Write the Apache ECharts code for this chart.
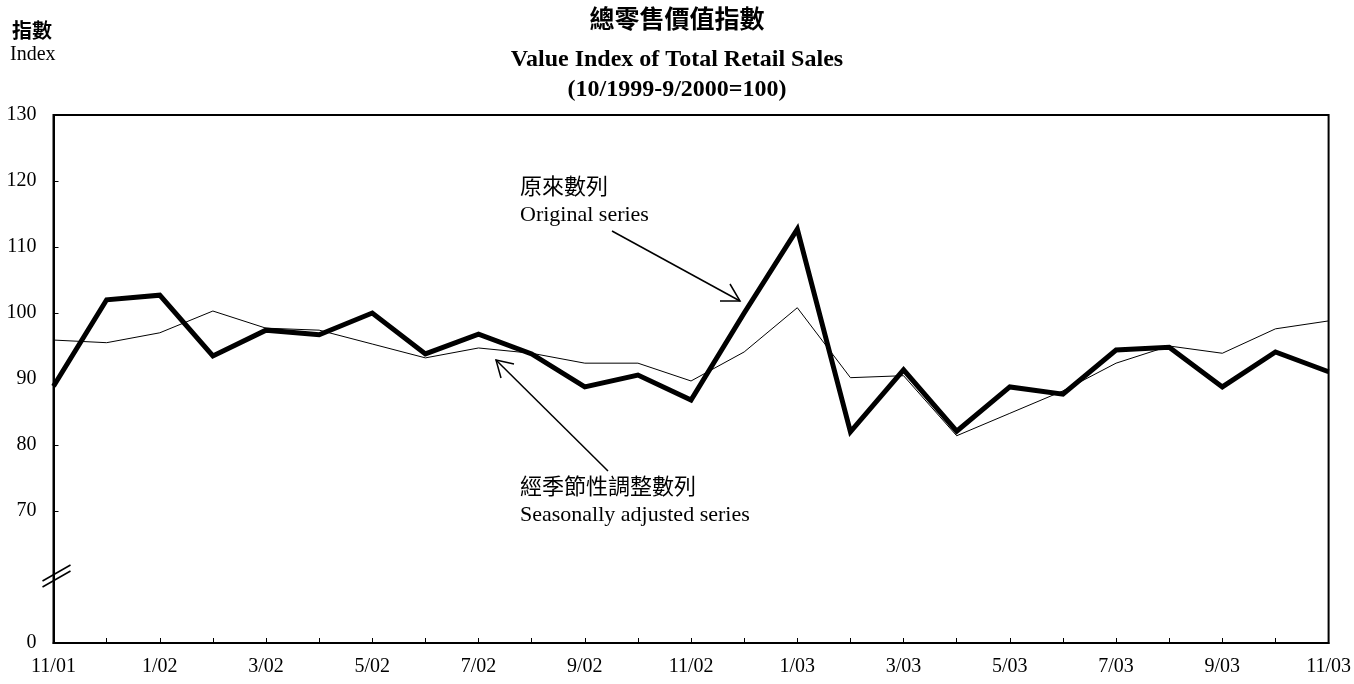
<!DOCTYPE html>
<html>
<head>
<meta charset="utf-8">
<script src="https://cdn.jsdelivr.net/npm/echarts@6/dist/echarts.min.js"></script>
<style>
html,body{margin:0;padding:0;background:#fff;}
#c{width:1354px;height:684px;}
</style>
</head>
<body>
<div id="c"></div>
<script>
const months = ["11/01","12/01","1/02","2/02","3/02","4/02","5/02","6/02","7/02","8/02","9/02","10/02","11/02","12/02","1/03","2/03","3/03","4/03","5/03","6/03","7/03","8/03","9/03","10/03","11/03"];
const originalSeries = [88.9,102.0,102.7,93.5,97.4,96.7,100.0,93.8,96.8,93.8,88.8,90.6,86.8,100.0,112.7,82.0,91.4,82.1,88.8,87.7,94.4,94.8,88.8,94.1,91.1];
const seasonallyAdjusted = [95.9,95.5,97.0,100.3,97.7,97.4,95.3,93.2,94.7,93.9,92.4,92.4,89.7,94.1,100.8,90.2,90.5,81.4,84.8,88.2,92.4,95.0,93.9,97.6,98.8];
const yTickLabels = {50:"0",60:"",70:"70",80:"80",90:"90",100:"100",110:"110",120:"120",130:"130"};

const serif = "'Liberation Serif','Times New Roman',serif";
const cjk = "'Noto Sans CJK TC','Noto Sans CJK SC',sans-serif";

const chart = echarts.init(document.getElementById('c'));
chart.setOption({
  animation:false,
  backgroundColor:'#fff',
  title:[
    {text:'總零售價值指數', left:'center', top:1, textStyle:{fontFamily:cjk,fontSize:25,fontWeight:'bold',color:'#000'}},
    {text:'Value Index of Total Retail Sales', left:'center', top:43, textStyle:{fontFamily:serif,fontSize:24,fontWeight:'bold',color:'#000'}},
    {text:'(10/1999-9/2000=100)', left:'center', top:73, textStyle:{fontFamily:serif,fontSize:24,fontWeight:'bold',color:'#000'}},
    {text:'指數', left:7, top:15, textStyle:{fontFamily:cjk,fontSize:20,fontWeight:'bold',color:'#000'}},
    {text:'Index', left:5, top:40, textStyle:{fontFamily:serif,fontSize:20,fontWeight:'normal',color:'#000'}}
  ],
  grid:{left:53.5,right:25,top:115,bottom:41,show:true,borderColor:'#000',borderWidth:2,backgroundColor:'transparent'},
  xAxis:{
    type:'category',data:months,boundaryGap:false,
    axisLine:{lineStyle:{color:'#000',width:2}},
    axisTick:{inside:true,length:5,interval:0,lineStyle:{color:'#000',width:1}},
    axisLabel:{interval:1,margin:14,fontFamily:serif,fontSize:20,color:'#000'},
    splitLine:{show:false}
  },
  yAxis:{
    type:'value',min:50,max:130,interval:10,
    axisLine:{show:true,lineStyle:{color:'#000',width:2}},
    axisTick:{show:true,inside:true,length:5,lineStyle:{color:'#000',width:1}},
    axisLabel:{margin:17,fontFamily:serif,fontSize:20,color:'#000',formatter:function(v){return yTickLabels[v]!==undefined?yTickLabels[v]:String(v);}},
    splitLine:{show:false}
  },
  series:[
    {name:'原來數列 Original series',type:'line',data:originalSeries,symbol:'none',lineStyle:{color:'#000',width:5,join:'miter'},z:2},
    {name:'經季節性調整數列 Seasonally adjusted series',type:'line',data:seasonallyAdjusted,symbol:'none',lineStyle:{color:'#000',width:1},z:3}
  ]
});

// decorations: axis break marks, annotation arrows and texts
const x0 = chart.convertToPixel({xAxisIndex:0}, months[0]);
const y60 = chart.convertToPixel({yAxisIndex:0}, 60);
const bx = x0 + 3;
chart.setOption({
  graphic:[
    {type:'rect',shape:{x:x0+1.5,y:y60-3,width:7,height:6},style:{fill:'#fff'},z:50},
    {type:'line',shape:{x1:bx-14,y1:y60+10,x2:bx+14,y2:y60-6},style:{stroke:'#000',lineWidth:1.5},z:60},
    {type:'line',shape:{x1:bx-14,y1:y60+4,x2:bx+14,y2:y60-12},style:{stroke:'#000',lineWidth:1.5},z:60},
    // Original series annotation
    {type:'text',left:520,top:175,style:{text:'原來數列',font:"22px 'Noto Sans CJK TC',sans-serif",fill:'#000'},z:60},
    {type:'text',left:520,top:204,style:{text:'Original series',font:"22px 'Liberation Serif',serif",fill:'#000'},z:60},
    {type:'line',shape:{x1:612,y1:231,x2:740,y2:301},style:{stroke:'#000',lineWidth:1.5},z:60},
    {type:'polyline',shape:{points:[[720,301],[740,301],[730,284]]},style:{stroke:'#000',lineWidth:1.5,fill:null},z:60},
    // Seasonally adjusted annotation
    {type:'text',left:520,top:475,style:{text:'經季節性調整數列',font:"22px 'Noto Sans CJK TC',sans-serif",fill:'#000'},z:60},
    {type:'text',left:520,top:504,style:{text:'Seasonally adjusted series',font:"22px 'Liberation Serif',serif",fill:'#000'},z:60},
    {type:'line',shape:{x1:608,y1:471,x2:496,y2:360},style:{stroke:'#000',lineWidth:1.5},z:60},
    {type:'polyline',shape:{points:[[501,378],[496,360],[514,364]]},style:{stroke:'#000',lineWidth:1.5,fill:null},z:60}
  ]
});
</script>
</body>
</html>
